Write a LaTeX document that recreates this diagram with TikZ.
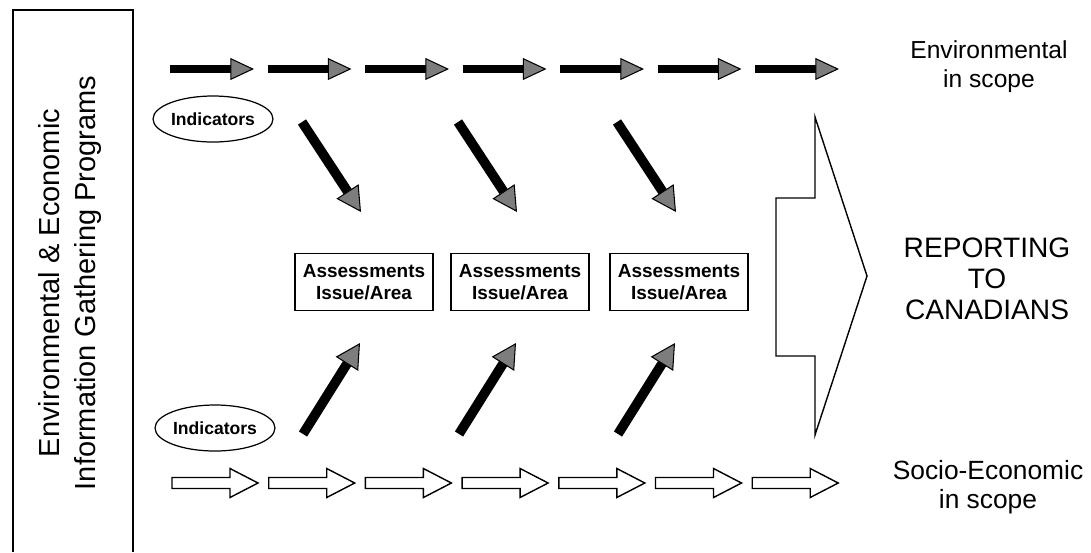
\documentclass[tikz,border=0pt]{standalone}
\usepackage{fontspec}
\setmainfont{Liberation Sans}
\usepackage{tikz}
\usetikzlibrary{arrows.meta,positioning,shapes.geometric}
\definecolor{HeadGray}{RGB}{125,125,125}

\tikzset{
  indic/.style={draw, ellipse, line width=0.7pt, minimum width=2.4cm, minimum height=0.92cm, inner sep=0pt, font=\fontsize{10}{12}\selectfont\bfseries},
  assess/.style={draw, line width=0.9pt, minimum width=2.76cm, minimum height=1.14cm, align=center, inner sep=0pt, font=\fontsize{10.8}{12.5}\selectfont\bfseries},
  feed/.style={line width=5.5pt, -{Triangle[length=14pt, width=15pt, fill=HeadGray, line width=0.6pt]}},
  envflow/.style={line width=4pt, -{Triangle[length=13.5pt, width=12.5pt, fill=HeadGray, line width=0.6pt]}},
  socflow/.style={line width=0.8pt, fill=white},
}

\begin{document}
\begin{tikzpicture}[x=0.02cm, y=-0.02cm]
    \useasboundingbox (0,0) rectangle (1091,552);

    % Programs column
    \draw [line width=0.8pt] (13,552) -- (13,10) -- (133,10) -- (133,552);
    \node [rotate=90, align=center, font=\fontsize{16.5}{20.5}\selectfont] (progs) at (70,283) {Environmental \& Economic\\Information Gathering Programs};

    % Streams
    \foreach \k in {0,...,6} {
        \draw [envflow] (170+97.5*\k,69) -- ++(84,0);
        \draw [socflow] (172+96.7*\k,483) ++(0,-5.5) -- ++(58,0) -- ++(0,-9) -- ++(28,14.5) -- ++(-28,14.5) -- ++(0,-9) -- ++(-58,0) -- cycle;
    }

    % Indicators
    \node [indic] (indtop) at (213,119) {Indicators};
    \node [indic] (indbot) at (215,428) {Indicators};

    % Assessments
    \foreach \i/\cx in {1/364, 2/520, 3/679} {
        \node [assess] (as\i) at (\cx,282) {Assessments\\Issue/Area};
        \draw [feed] ([shift={(-62,-160)}]as\i.center) -- ([shift={(-3,-70)}]as\i.center);
        \draw [feed] ([shift={(-61,152)}]as\i.center) -- ([shift={(-4,61)}]as\i.center);
    }

    % Reporting
    \draw [line width=0.8pt] (776,198) -- (815,198) -- (815,117) -- (867,276) -- (815,435) -- (815,356) -- (776,356) -- cycle;
    \node [align=center, font=\fontsize{16}{17.8}\selectfont] (report) at (987,279) {REPORTING\\TO\\CANADIANS};

    \node [align=center, font=\fontsize{14}{16.5}\selectfont] (envscope) at (989,67) {Environmental\\in scope};
    \node [align=center, font=\fontsize{15}{16.5}\selectfont] (socscope) at (988,487) {Socio-Economic\\in scope};
\end{tikzpicture}
\end{document}
